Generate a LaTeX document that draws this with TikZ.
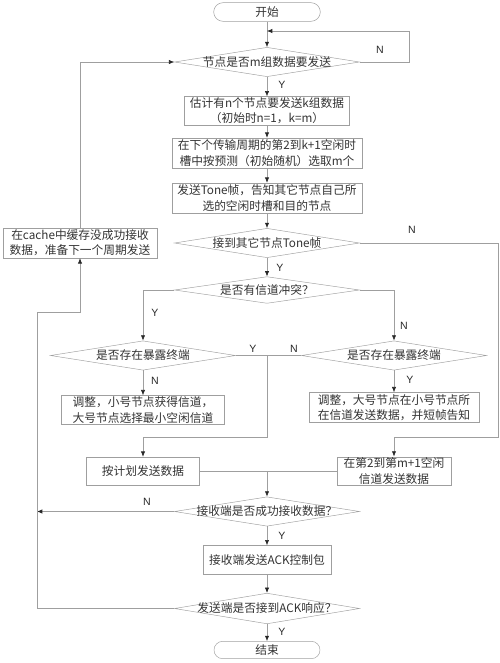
\documentclass[tikz,border=0pt]{standalone}
\usepackage{fontspec}
\setmainfont{Noto Sans CJK SC}
\newfontfamily\ynfont{Liberation Sans}
\usetikzlibrary{arrows.meta}
\usetikzlibrary{shapes.geometric}
\usetikzlibrary{shapes.misc}
\usetikzlibrary{calc}

\tikzset{
    line/.style={draw=gray!75, line width=0.5pt},
    arr/.style={line, -{Latex[length=4.5pt,width=3.6pt,color=black!85]}},
    proc/.style={rectangle, draw=gray!75, fill=white, inner sep=1pt, align=center,
        text=black!80, font=\fontsize{10pt}{13pt}\selectfont},
    decision/.style={diamond, draw=gray!75, inner sep=0pt, minimum width=5.55cm,
        minimum height=0.88cm, text=black!80, font=\fontsize{10pt}{12pt}\selectfont},
    term/.style={rounded rectangle, draw=gray!75, inner sep=0pt,
        text=black!80, font=\fontsize{10pt}{12pt}\selectfont},
    yn/.style={font=\ynfont\fontsize{9pt}{10pt}\selectfont, text=black!85},
}

\begin{document}
\begin{tikzpicture}[x=0.03cm, y=-0.03cm]
    \useasboundingbox (0,0) rectangle (500,663);

    % main column
    \node[term, minimum width=3.2cm, minimum height=0.56cm] (start) at (267,12) {开始};
    \node[decision] (q1) at (267,62) {\makebox[0pt]{节点是否m组数据要发送}};
    \node[proc, minimum width=4.95cm, minimum height=0.84cm] (est) at (267,111) {估计有n个节点要发送k组数据\\（初始时n=1，k=m）};
    \node[proc, minimum width=5.7cm, minimum height=0.9cm] (pick) at (267,153) {在下个传输周期的第2到k+1空闲时\\槽中按预测（初始随机）选取m个};
    \node[proc, minimum width=5.7cm, minimum height=0.9cm] (tone) at (267,198) {发送Tone帧，告知其它节点自己所\\选的空闲时槽和目的节点};
    \node[decision] (qtone) at (267,243) {\makebox[0pt]{接到其它节点Tone帧}};
    \node[decision, minimum height=0.8cm] (qconf) at (267,290) {\makebox[0pt]{是否有信道冲突？}};

    % the two branches
    \node[decision] (lexp) at (143,355.5) {\makebox[0pt]{是否存在暴露终端}};
    \node[decision] (rexp) at (394,355.5) {\makebox[0pt]{是否存在暴露终端}};
    \node[proc, minimum width=4.9cm, minimum height=0.87cm] (ladj) at (143,410) {调整，小号节点获得信道，\\大号节点选择最小空闲信道};
    \node[proc, minimum width=5.1cm, minimum height=0.9cm] (radj) at (394,407.5) {调整，大号节点在小号节点所\\在信道发送数据，并短帧告知};
    \node[proc, minimum width=3.4cm, minimum height=0.84cm] (plan) at (143,471) {按计划发送数据};
    \node[proc, minimum width=3.42cm, minimum height=0.84cm] (slot) at (394,471) {在第2到第m+1空闲\\信道发送数据};

    \node[decision] (qrecv) at (267,511.5) {\makebox[0pt]{接收端是否成功接收数据？}};
    \node[proc, minimum width=3.84cm, minimum height=0.87cm] (ack) at (267,560) {接收端发送ACK控制包};
    \node[decision, minimum height=0.92cm] (qack) at (267,608.5) {\makebox[0pt]{发送端是否接到ACK响应？}};
    \node[term, minimum width=3.18cm, minimum height=0.52cm] (end) at (267,650) {结束};

    \node[proc, minimum width=4.62cm, minimum height=0.9cm] (cache) at (80,243) {在cache中缓存没成功接收\\数据，准备下一个周期发送};

    % bends and joins
    \coordinate (back) at (267,31);
    \coordinate (tn) at (394,437);
    \coordinate (jx) at (267,355.5);
    \coordinate (jy) at (267,437);
    \coordinate (jz) at (267,471);
    \coordinate (lp) at (37,312);

    \draw[arr] (start.south) -- (q1.north);
    \draw[arr] (q1.east) -- ++(50,0) |- (back);
    \draw[arr] (q1.south) -- (est.north);
    \draw[arr] (est.south) -- (pick.north);
    \draw[arr] (pick.south) -- (tone.north);
    \draw[arr] (tone.south) -- (qtone.north);
    \draw[arr] (qtone.east) -- ++(138.5,0) |- (tn) -- (slot.north);
    \draw[arr] (qtone.south) -- (qconf.north);
    \draw[arr] (qconf.west) -| (lexp.north);
    \draw[arr] (qconf.east) -| (rexp.north);
    \draw[arr] (lexp.south) -- (ladj.north);
    \draw[arr] (rexp.south) -- (radj.north);
    \draw[line] (lexp.east) -- (rexp.west);
    \draw[arr] (jx) -- (jy) -| (plan.north);
    \draw[line] (plan.east) -- (slot.west);
    \draw[arr] (jz) -- (qrecv.north);
    \draw[arr] (qrecv.west) -- (qrecv.west -| lp);
    \draw[arr] (qrecv.south) -- (ack.north);
    \draw[arr] (ack.south) -- (qack.north);
    \draw[arr] (qack.south) -- (end.north);
    \draw[arr] (qack.west) -| (lp) -| (cache.south);
    \draw[arr] (cache.north) |- (q1.west);

    % Y / N
    \node[yn] (n1) at (380,50) {N};
    \node[yn] (y1) at (282,85) {Y};
    \node[yn] (n2) at (412,230) {N};
    \node[yn] (y2) at (280,268) {Y};
    \node[yn] (y3) at (155,313) {Y};
    \node[yn] (n3) at (404,326) {N};
    \node[yn] (y4) at (253,349) {Y};
    \node[yn] (n4) at (294,349) {N};
    \node[yn] (n5) at (155,381) {N};
    \node[yn] (y5) at (410,380) {Y};
    \node[yn] (n6) at (147,502) {N};
    \node[yn] (y6) at (282,536) {Y};
    \node[yn] (y7) at (282,632) {Y};
\end{tikzpicture}
\end{document}
